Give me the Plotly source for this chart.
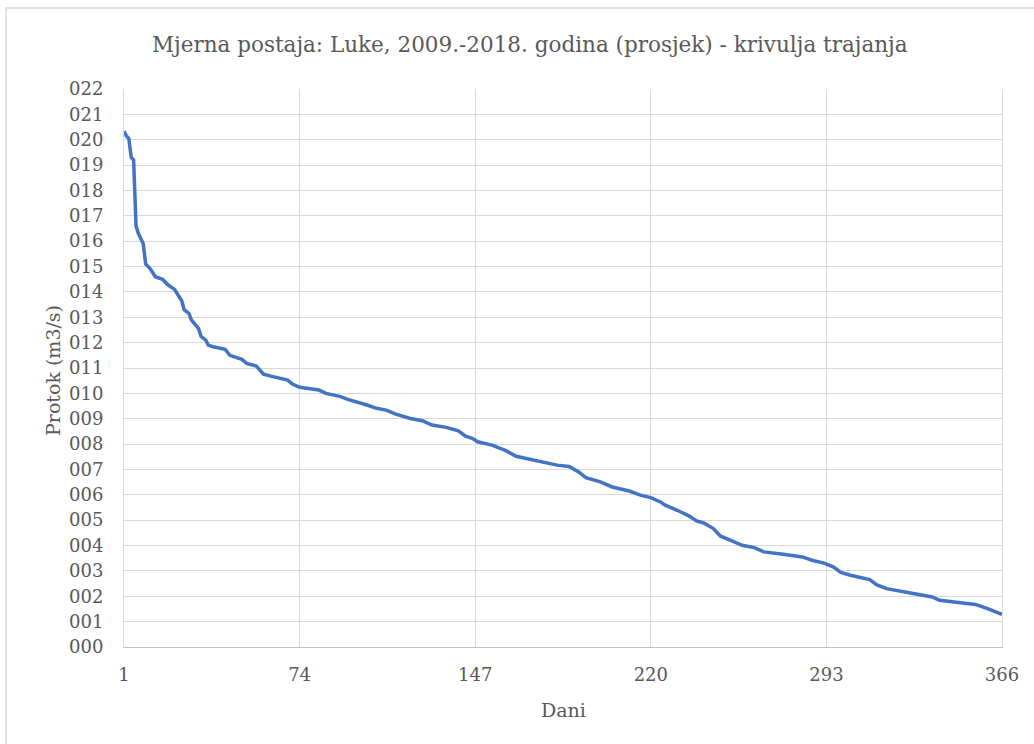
import plotly.graph_objects as go

# Flow duration curve, station Luke, average of 2009-2018
days = [1, 2, 3, 4, 5, 6, 7, 8, 9, 10, 12, 14, 17, 19, 22, 24, 25, 26, 28, 29,
        31, 32, 33, 35, 36, 38, 43, 45, 50, 52, 56, 59, 62, 66, 69, 71, 74, 82, 85, 91,
        94, 102, 106, 110, 114, 120, 125, 129, 135, 140, 143, 146, 148, 154, 160, 164, 171, 181, 186, 190,
        193, 199, 204, 211, 216, 220, 224, 226, 231, 236, 239, 242, 246, 249, 253, 258, 263, 267, 275, 283,
        287, 292, 296, 299, 303, 311, 314, 318, 328, 337, 340, 355, 360, 366]
flow = [20.33, 20.15, 20.05, 19.3, 19.2, 16.6, 16.3, 16.1, 15.9, 15.1, 14.9, 14.6, 14.5, 14.3, 14.1, 13.8, 13.65, 13.3, 13.15, 12.9,
        12.7, 12.55, 12.25, 12.1, 11.9, 11.84, 11.74, 11.5, 11.34, 11.18, 11.08, 10.76, 10.68, 10.59, 10.52, 10.37, 10.24, 10.13, 10.0, 9.87,
        9.76, 9.54, 9.41, 9.34, 9.18, 9.01, 8.92, 8.75, 8.66, 8.52, 8.31, 8.22, 8.09, 7.96, 7.73, 7.52, 7.37, 7.17, 7.12, 6.9,
        6.68, 6.51, 6.31, 6.15, 5.98, 5.89, 5.72, 5.59, 5.39, 5.16, 4.97, 4.89, 4.67, 4.37, 4.21, 4.01, 3.92, 3.75, 3.66, 3.55,
        3.42, 3.31, 3.15, 2.94, 2.83, 2.66, 2.45, 2.3, 2.13, 1.97, 1.84, 1.68, 1.51, 1.29]

x_ticks = [1, 74, 147, 220, 293, 366]
y_ticks = list(range(0, 23))
y_tick_text = ["000", "001", "002", "003", "004", "005", "006", "007", "008", "009", "010", "011",
               "012", "013", "014", "015", "016", "017", "018", "019", "020", "021", "022"]

FONT = "DejaVu Serif"
TEXT = "#595959"
GRID = "#d9d9d9"

fig = go.Figure()
fig.add_trace(go.Scatter(x=days, y=flow, mode="lines",
                         line=dict(color="#4472C4", width=3.5), showlegend=False))

fig.update_layout(
    width=1034, height=744,
    margin=dict(l=124, r=32, t=89, b=97),
    paper_bgcolor="white", plot_bgcolor="white",
    font=dict(family=FONT, color=TEXT, size=18),
    xaxis=dict(range=[1, 366], tickvals=x_ticks, showgrid=True, gridcolor=GRID, gridwidth=1,
               zeroline=False, showline=True, linecolor="#bfbfbf", linewidth=1, mirror=False,
               ticks="outside", ticklen=11, tickcolor="rgba(0,0,0,0)",
               tickfont=dict(size=18, family=FONT, color=TEXT)),
    yaxis=dict(range=[0, 22], tickvals=y_ticks, ticktext=y_tick_text, showgrid=True,
               gridcolor=GRID, gridwidth=1, zeroline=False, showline=True, linecolor=GRID,
               linewidth=1, mirror=True, ticks="outside", ticklen=16, tickcolor="rgba(0,0,0,0)",
               tickfont=dict(size=18, family=FONT, color=TEXT)),
    annotations=[
        dict(text="Mjerna postaja: Luke, 2009.-2018. godina (prosjek) - krivulja trajanja",
             xref="paper", yref="paper", x=0.4624, y=1.0789, showarrow=False,
             xanchor="center", yanchor="middle", font=dict(size=21.5, family=FONT, color=TEXT)),
        dict(text="Dani", xref="paper", yref="paper", x=0.5, y=-0.1129, showarrow=False,
             xanchor="center", yanchor="middle", font=dict(size=19, family=FONT, color=TEXT)),
        dict(text="Protok (m3/s)", xref="paper", yref="paper", x=-0.0809, y=0.4964,
             showarrow=False, textangle=-90, xanchor="center", yanchor="middle",
             font=dict(size=19, family=FONT, color=TEXT)),
    ],
    shapes=[dict(type="rect", xref="paper", yref="paper", x0=-0.1344, x1=1.0433,
                 y0=-0.1846, y1=1.1452, line=dict(color=GRID, width=1.5), layer="below")],
)

fig.write_html("out.html")
